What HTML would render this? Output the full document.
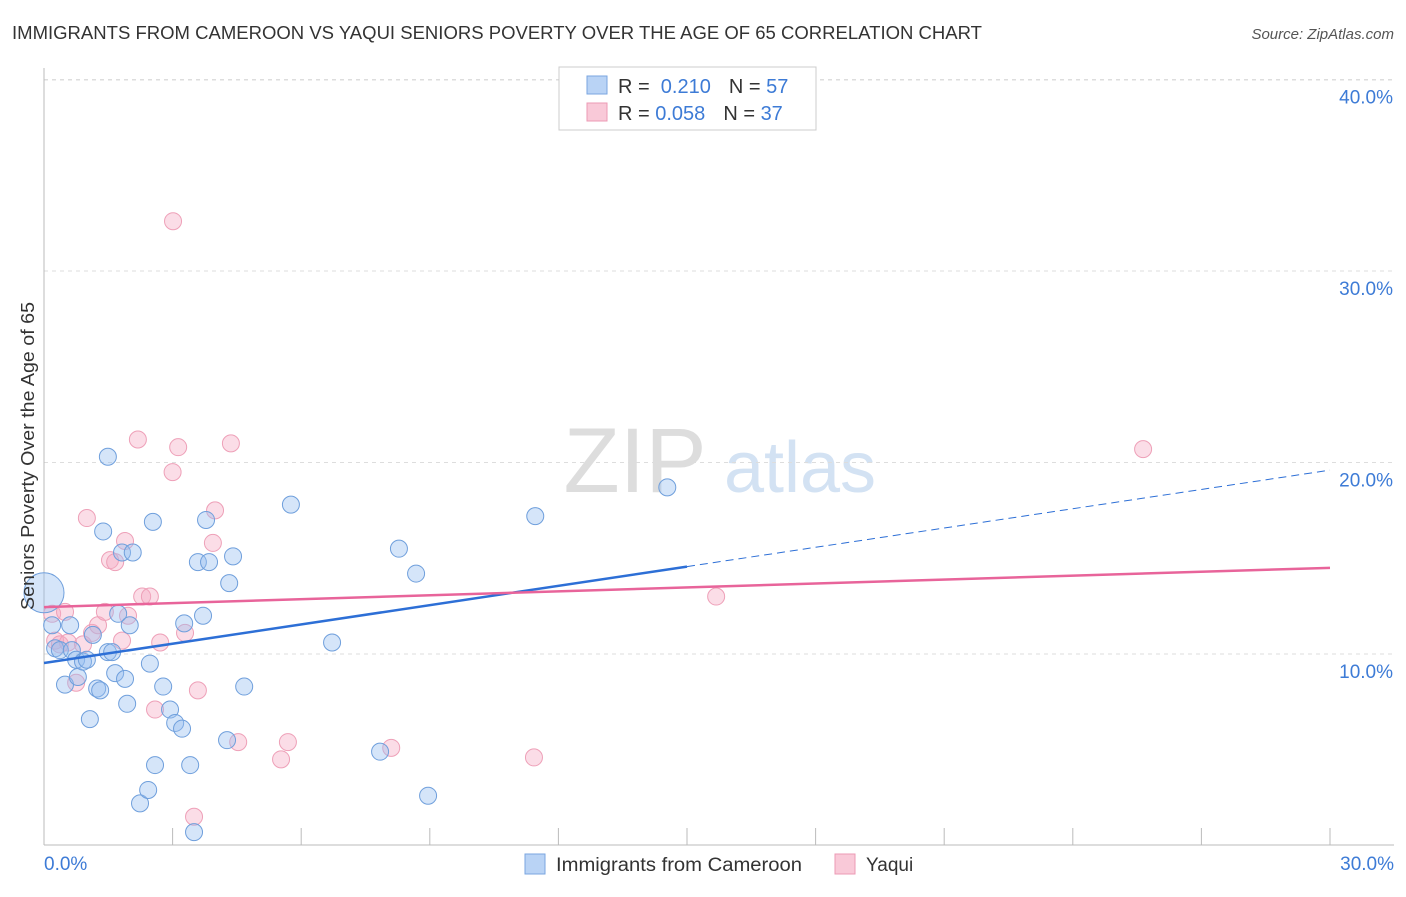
<!DOCTYPE html>
<html><head><meta charset="utf-8"><style>
body{margin:0;background:#fff;font-family:"Liberation Sans",sans-serif;}
svg text{font-family:"Liberation Sans",sans-serif;}
</style></head><body>
<svg width="1406" height="892">
<text x="12" y="39" font-size="18" fill="#333" textLength="970" lengthAdjust="spacingAndGlyphs">IMMIGRANTS FROM CAMEROON VS YAQUI SENIORS POVERTY OVER THE AGE OF 65 CORRELATION CHART</text>
<text x="1394" y="39" font-size="15" fill="#555" font-style="italic" text-anchor="end">Source: ZipAtlas.com</text>
<g>
<text x="635" y="492" font-size="92" fill="#ddd" font-family="Liberation Serif" text-anchor="middle">ZIP</text>
<text x="800" y="492" font-size="72" fill="#d3e2f3" text-anchor="middle">atlas</text></g>
<g id="grid"></g><g id="axes"></g><g id="marks"></g>
<text transform="translate(34,456) rotate(-90)" font-size="18" fill="#333" text-anchor="middle" textLength="308" lengthAdjust="spacingAndGlyphs">Seniors Poverty Over the Age of 65</text>
<g>
<rect x="559" y="67" width="257" height="63" fill="#fff" stroke="#ccc"/>
<rect x="587" y="76" width="20" height="18" fill="#b9d3f5" stroke="#7aa6e0"/>
<rect x="587" y="103" width="20" height="18" fill="#f9c9d8" stroke="#ec9ab4"/>
<text x="618" y="93" font-size="20" fill="#333">R = <tspan fill="#3d7bd6">&#160;0.210</tspan><tspan dx="18">N = </tspan><tspan fill="#3d7bd6">57</tspan></text>
<text x="618" y="120" font-size="20" fill="#333">R = <tspan fill="#3d7bd6">0.058</tspan><tspan dx="18">N = </tspan><tspan fill="#3d7bd6">37</tspan></text>
</g>
<g>
<rect x="525" y="854" width="20" height="20" fill="#b9d3f5" stroke="#7aa6e0"/>
<text x="556" y="871" font-size="19" fill="#333" textLength="246" lengthAdjust="spacingAndGlyphs">Immigrants from Cameroon</text>
<rect x="835" y="854" width="20" height="20" fill="#f9c9d8" stroke="#ec9ab4"/>
<text x="866" y="871" font-size="19" fill="#333">Yaqui</text>
</g>
</svg>
<script>
const yTicks=[10,20,30,40];
const xTickLabels=["0.0%","30.0%"];
const blueX=[0,0.19,0.26,0.37,0.49,0.61,0.65,0.75,0.79,0.91,1.0,1.07,1.14,1.24,1.31,1.38,1.49,1.49,1.59,1.66,1.73,1.82,1.89,1.94,2.0,2.07,2.24,2.43,2.47,2.54,2.59,2.78,2.94,3.06,3.22,3.27,3.41,3.5,3.59,3.71,3.78,3.85,4.27,4.32,4.41,4.67,5.76,6.72,7.84,8.28,8.68,8.96,11.46,14.54];
const blueY=[13.2,11.5,10.3,10.2,8.4,11.5,10.2,9.7,8.8,9.6,9.7,6.6,11.0,8.2,8.1,16.4,20.3,10.1,10.1,9.0,12.1,15.3,8.7,7.4,11.5,15.3,2.2,2.9,9.5,16.9,4.2,8.3,7.1,6.4,6.1,11.6,4.2,0.7,14.8,12.0,17.0,14.8,5.5,13.7,15.1,8.3,17.8,10.6,4.9,15.5,14.2,2.6,17.2,18.7];
const pinkX=[0.19,0.26,0.37,0.49,0.56,0.75,0.91,1.0,1.12,1.26,1.42,1.54,1.66,1.82,1.89,1.96,2.19,2.29,2.47,2.59,2.71,3.01,3.0,3.13,3.29,3.5,3.59,3.94,3.99,4.36,4.53,5.53,5.69,8.1,11.43,15.68,25.64];
const pinkY=[12.1,10.7,10.5,12.2,10.6,8.5,10.5,17.1,11.1,11.5,12.2,14.9,14.8,10.7,15.9,12.0,21.2,13.0,13.0,7.1,10.6,32.6,19.5,20.8,11.1,1.5,8.1,15.8,17.5,21.0,5.4,4.5,5.4,5.1,4.6,13.0,20.7];
const blueTrend=[9.53,19.6], pinkTrend=[12.45,14.5];
const NS="http://www.w3.org/2000/svg";
const X=v=>44+v/30*1286, Y=v=>845.5-v*19.15;
function mk(p,tag,a){const e=document.createElementNS(NS,tag);for(const k in a)e.setAttribute(k,a[k]);p.appendChild(e);return e;}
const grid=document.getElementById('grid'),axes=document.getElementById('axes'),marks=document.getElementById('marks');
mk(grid,'line',{x1:44,x2:1394,y1:80,y2:80,stroke:'#ddd','stroke-dasharray':'4,4'});
yTicks.forEach(t=>{
 const l=mk(grid,'line',{x1:44,x2:1394,y1:Y(t),y2:Y(t),stroke:'#ddd','stroke-dasharray':'4,4'});
 
 
 const tx=mk(axes,'text',{x:1393,y:Y(t)+24,'font-size':19,fill:'#3d7bd6','text-anchor':'end'});tx.textContent=t.toFixed(1)+'%';
 
 
});
mk(axes,'line',{x1:44,x2:44,y1:68,y2:845,stroke:'#bbb'});
mk(axes,'line',{x1:44,x2:1394,y1:845,y2:845,stroke:'#bbb'});
for(let i=0;i<=10;i++){mk(axes,'line',{x1:X(i*3),x2:X(i*3),y1:828,y2:845,stroke:'#bbb'});}
const xl0=mk(axes,'text',{x:44,y:870,'font-size':19,fill:'#3d7bd6'});xl0.textContent=xTickLabels[0];


const xl1=mk(axes,'text',{x:1394,y:870,'font-size':19,fill:'#3d7bd6','text-anchor':'end'});xl1.textContent=xTickLabels[1];


pinkX.forEach((x,i)=>{const c=mk(marks,'circle',{cx:X(x),cy:Y(pinkY[i]),r:8.5,fill:'rgba(246,170,195,0.4)',stroke:'#eea0b8','stroke-width':1});
 
 });
blueX.forEach((x,i)=>{const c=mk(marks,'circle',{cx:X(x),cy:Y(blueY[i]),r:i===0?20:8.5,fill:'rgba(150,190,240,0.4)',stroke:'#6f9fdc','stroke-width':1});
 
 });
const bAt=v=>blueTrend[0]+(blueTrend[1]-blueTrend[0])*v/30;
const t1=mk(marks,'line',{x1:X(0),y1:Y(bAt(0)),x2:X(15),y2:Y(bAt(15)),stroke:'#2d6fd6','stroke-width':2.5});


const t2=mk(marks,'line',{x1:X(15),y1:Y(bAt(15)),x2:X(30),y2:Y(bAt(30)),stroke:'#2d6fd6','stroke-width':1,'stroke-dasharray':'8,5'});


const t3=mk(marks,'line',{x1:X(0),y1:Y(pinkTrend[0]),x2:X(30),y2:Y(pinkTrend[1]),stroke:'#e8649a','stroke-width':2.5});


</script>
</body></html>
